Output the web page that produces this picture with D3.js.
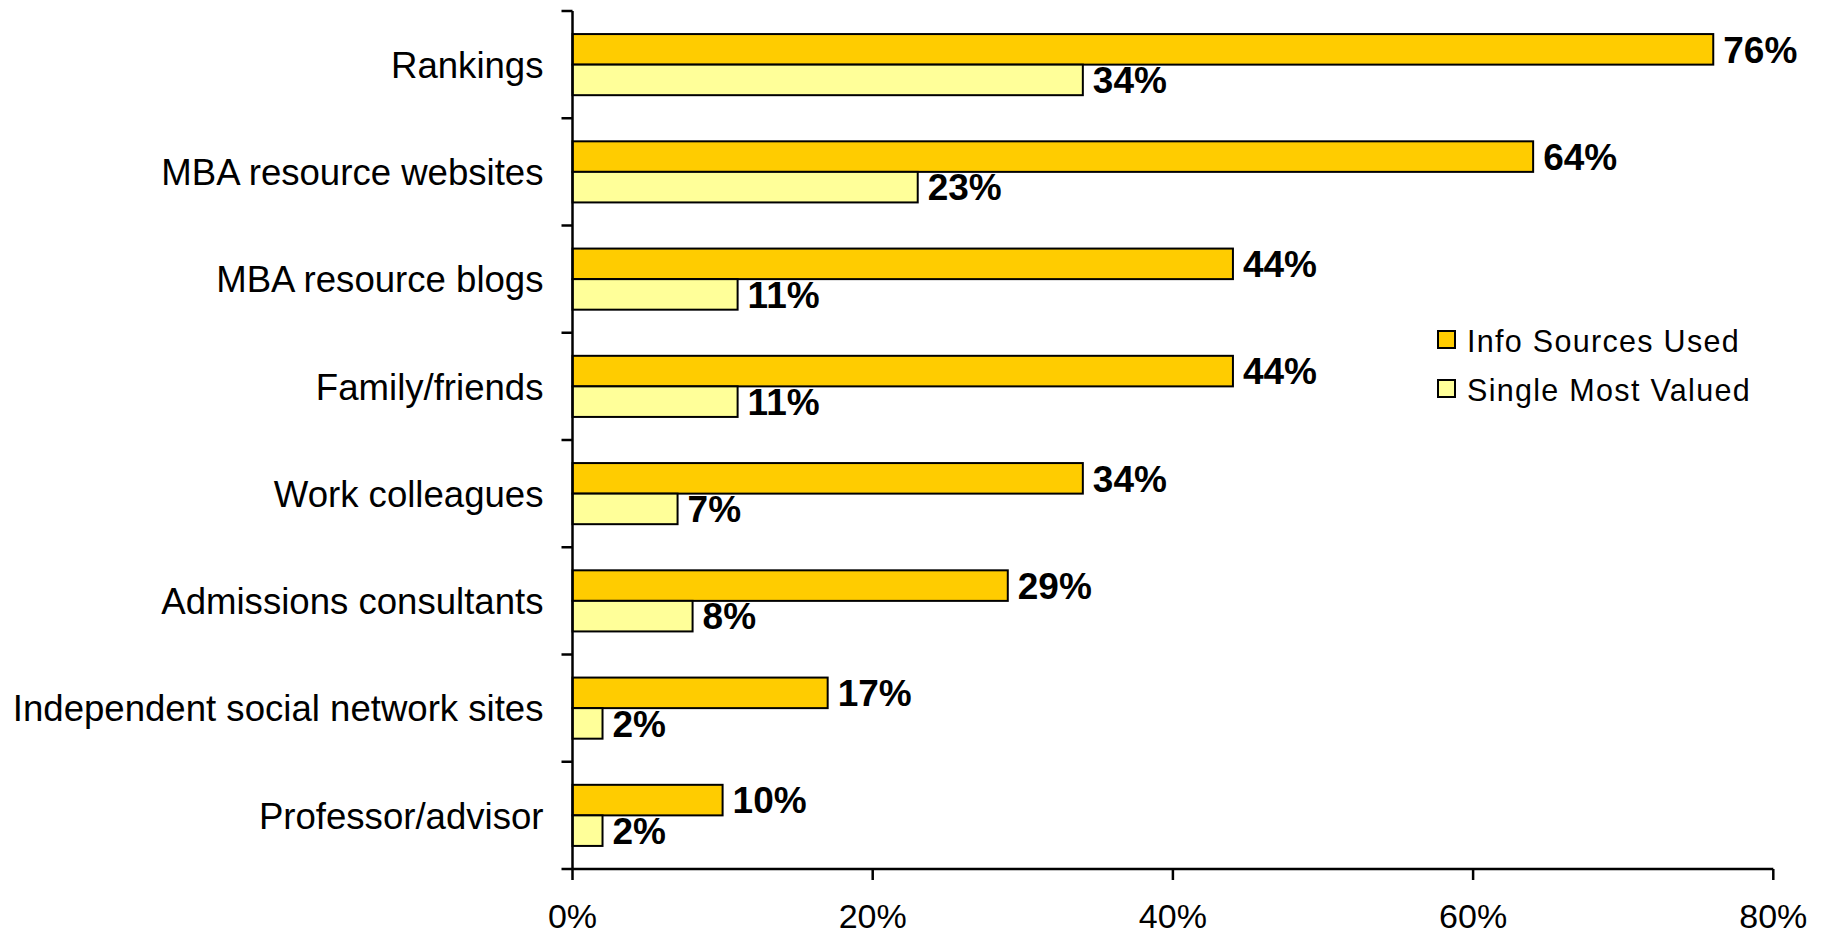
<!DOCTYPE html>
<html>
<head>
<meta charset="utf-8">
<script src="https://cdn.jsdelivr.net/npm/d3@7"></script>
<style>
  html, body { margin: 0; padding: 0; background: #ffffff; }
  svg { display: block; }
  text { font-family: "Liberation Sans", Arial, sans-serif; fill: #000; }
</style>
</head>
<body>
<svg id="chart" width="1829" height="936"></svg>
<script>
// Information sources used when researching MBA programs
const categories = [
  "Rankings",
  "MBA resource websites",
  "MBA resource blogs",
  "Family/friends",
  "Work colleagues",
  "Admissions consultants",
  "Independent social network sites",
  "Professor/advisor"
];
const seriesNames = ["Info Sources Used", "Single Most Valued"];
const infoSourcesUsed = [76, 64, 44, 44, 34, 29, 17, 10];
const singleMostValued = [34, 23, 11, 11, 7, 8, 2, 2];
const xTicks = [0, 20, 40, 60, 80];
const seriesColors = ["#FFCC00", "#FFFF99"];

const svg = d3.select("#chart");
const x0 = 572.5, x1 = 1773.3, yTop = 11, yBottom = 869;

const x = d3.scaleLinear().domain([0, 80]).range([x0, x1]);
const y = d3.scaleBand().domain(categories).range([yTop, yBottom]).padding(0);
const sub = d3.scaleBand().domain(seriesNames).range([0, y.bandwidth()])
  .paddingInner(0).paddingOuter(0.755);

const rows = categories.map((c, i) => ({
  cat: c,
  vals: [
    { key: seriesNames[0], v: infoSourcesUsed[i], color: seriesColors[0] },
    { key: seriesNames[1], v: singleMostValued[i], color: seriesColors[1] }
  ]
}));

// Bars
const groups = svg.append("g").selectAll("g").data(rows).join("g")
  .attr("transform", d => `translate(0,${y(d.cat)})`);

groups.selectAll("rect").data(d => d.vals).join("rect")
  .attr("x", x(0))
  .attr("y", d => sub(d.key))
  .attr("width", d => x(d.v) - x(0))
  .attr("height", sub.bandwidth())
  .attr("fill", d => d.color)
  .attr("stroke", "#000")
  .attr("stroke-width", 2);

// Value labels
groups.selectAll("text.val").data(d => d.vals).join("text")
  .attr("class", "val")
  .attr("x", d => x(d.v) + 10)
  .attr("y", d => sub(d.key) + sub.bandwidth() / 2)
  .attr("dy", "0.36em")
  .style("font-size", "37px")
  .style("font-weight", "bold")
  .text(d => d.v + "%");

// Category axis (ticks between categories)
const yAxis = svg.append("g");
yAxis.append("line")
  .attr("x1", x0).attr("x2", x0).attr("y1", yTop).attr("y2", yBottom)
  .attr("stroke", "#000").attr("stroke-width", 2.5);
const boundaries = categories.map(c => y(c)).concat([yBottom]);
yAxis.selectAll("line.tick").data(boundaries).join("line")
  .attr("class", "tick")
  .attr("x1", x0 - 11).attr("x2", x0)
  .attr("y1", d => d).attr("y2", d => d)
  .attr("stroke", "#000").attr("stroke-width", 2.5);
yAxis.selectAll("text").data(categories).join("text")
  .attr("x", x0 - 29)
  .attr("y", d => y(d) + y.bandwidth() / 2)
  .attr("dy", "0.36em")
  .attr("text-anchor", "end")
  .style("font-size", "36.6px")
  .text(d => d);

// Value axis
const xAxis = svg.append("g");
xAxis.append("line")
  .attr("x1", x0).attr("x2", x1).attr("y1", yBottom).attr("y2", yBottom)
  .attr("stroke", "#000").attr("stroke-width", 2.5);
xAxis.selectAll("line.tick").data(xTicks).join("line")
  .attr("class", "tick")
  .attr("x1", d => x(d)).attr("x2", d => x(d))
  .attr("y1", yBottom).attr("y2", yBottom + 11)
  .attr("stroke", "#000").attr("stroke-width", 2.5);
xAxis.selectAll("text").data(xTicks).join("text")
  .attr("x", d => x(d))
  .attr("y", 928)
  .attr("text-anchor", "middle")
  .style("font-size", "34px")
  .text(d => d + "%");

// Legend
const legend = svg.append("g").attr("transform", "translate(1438,331)");
const li = legend.selectAll("g").data(seriesNames).join("g")
  .attr("transform", (d, i) => `translate(0,${i * 49})`);
li.append("rect")
  .attr("width", 17).attr("height", 17)
  .attr("fill", (d, i) => seriesColors[i])
  .attr("stroke", "#000").attr("stroke-width", 2);
li.append("text")
  .attr("x", 29).attr("y", 20.5)
  .style("font-size", "30.5px")
  .style("letter-spacing", "1.3px")
  .text(d => d);
</script>
</body>
</html>
